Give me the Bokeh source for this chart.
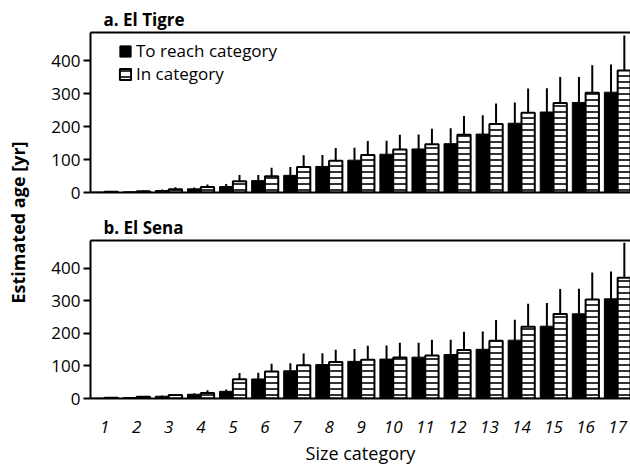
from math import pi

from bokeh.embed import file_html
from bokeh.layouts import column, row
from bokeh.models import (ColumnDataSource, FixedTicker, Label, Legend,
                          LegendItem, LinearAxis, Range1d)
from bokeh.plotting import figure
from bokeh.resources import INLINE
from bokeh.transform import dodge

# Size categories and tick labels
categories = list(range(1, 18))
category_labels = [str(c) for c in categories]
y_ticks = [0, 100, 200, 300, 400]

# a. El Tigre: mean estimated age (yr) and upper error (yr)
tigre_reach = [1, 2, 6, 11, 18, 36, 52, 79, 98, 116, 132, 148, 177, 210, 244, 273, 304]
tigre_reach_err = [1, 2, 3, 4, 8, 17, 25, 35, 38, 41, 44, 47, 57, 63, 72, 77, 84]
tigre_in = [2, 4, 10, 17, 34, 49, 77, 96, 114, 130, 146, 175, 208, 242, 271, 302, 370]
tigre_in_err = [1, 2, 6, 7, 19, 26, 36, 39, 42, 45, 47, 57, 62, 73, 79, 84, 106]

# b. El Sena
sena_reach = [1, 3, 7, 13, 22, 60, 85, 104, 114, 121, 127, 135, 151, 179, 222, 260, 306]
sena_reach_err = [1, 1, 2, 3, 6, 19, 23, 35, 38, 42, 44, 45, 55, 63, 71, 77, 84]
sena_in = [2, 5, 11, 17, 59, 83, 102, 112, 119, 126, 132, 149, 177, 220, 259, 304, 371]
sena_in_err = [1, 2, 3, 8, 19, 24, 36, 38, 43, 45, 48, 56, 64, 71, 77, 83, 107]

FONT = "Open Sans"
X_START, X_END = 0.56, 17.4
Y_END = 485
BAR_W = 0.415
OFF = BAR_W / 2


def panel(title, reach, reach_err, inside, inside_err, height, b_top, b_bottom,
          show_x, show_legend):
    src = ColumnDataSource(dict(
        cat=categories,
        reach=reach,
        reach_hi=[v + e for v, e in zip(reach, reach_err)],
        inside=inside,
        inside_hi=[v + e for v, e in zip(inside, inside_err)],
    ))
    p = figure(width=600, height=height, title=title,
               x_range=Range1d(X_START, X_END), y_range=Range1d(0, Y_END),
               output_backend="svg", toolbar_location=None,
               min_border_left=60, min_border_right=0,
               min_border_top=b_top, min_border_bottom=b_bottom)
    p.outline_line_color = None
    p.grid.visible = False
    p.background_fill_color = "white"
    p.border_fill_color = "white"

    # panel title
    p.title.align = "left"
    p.title.offset = 13
    p.title.standoff = 4
    p.title.text_font = FONT
    p.title.text_font_size = "17px"
    p.title.text_font_style = "bold"
    p.title.text_color = "black"

    # upward error whiskers
    p.segment(x0=dodge("cat", -OFF, range=p.x_range), y0="reach",
              x1=dodge("cat", -OFF, range=p.x_range), y1="reach_hi",
              source=src, line_color="black", line_width=2)
    p.segment(x0=dodge("cat", OFF, range=p.x_range), y0="inside",
              x1=dodge("cat", OFF, range=p.x_range), y1="inside_hi",
              source=src, line_color="black", line_width=2)

    solid = p.vbar(x=dodge("cat", -OFF, range=p.x_range), top="reach", bottom=0,
                   width=BAR_W, source=src, fill_color="black",
                   line_color="black", line_width=1)
    hatched = p.vbar(x=dodge("cat", OFF, range=p.x_range), top="inside", bottom=0,
                     width=BAR_W, source=src, fill_color="white",
                     line_color="black", line_width=2,
                     hatch_pattern="horizontal_line", hatch_color="black",
                     hatch_scale=6, hatch_weight=1.6)

    # y axis
    ya = p.yaxis[0]
    ya.ticker = FixedTicker(ticks=y_ticks)
    ya.minor_tick_line_color = None
    ya.major_tick_in = 0
    ya.major_tick_out = 7
    ya.major_tick_line_width = 2
    ya.axis_line_width = 2
    ya.major_label_standoff = 3
    ya.major_label_text_font = FONT
    ya.major_label_text_font_size = "17px"
    ya.major_label_text_color = "black"

    # x axis
    xa = p.xaxis[0]
    xa.minor_tick_line_color = None
    xa.major_tick_in = 0
    xa.major_tick_out = 0
    xa.axis_line_width = 2
    if show_x:
        xa.ticker = FixedTicker(ticks=categories)
        xa.major_label_overrides = {c: lab for c, lab in zip(categories, category_labels)}
        xa.major_label_standoff = 22
        xa.major_label_text_font = FONT
        xa.major_label_text_font_size = "17px"
        xa.major_label_text_font_style = "italic"
        xa.major_label_text_color = "black"
        xa.axis_label = "Size category"
        xa.axis_label_standoff = 5
        xa.axis_label_text_font = FONT
        xa.axis_label_text_font_size = "18px"
        xa.axis_label_text_font_style = "normal"
        xa.axis_label_text_color = "black"
    else:
        xa.ticker = FixedTicker(ticks=[])
        xa.major_label_standoff = 0

    # top border line
    top_axis = LinearAxis(ticker=FixedTicker(ticks=[]), axis_line_width=2,
                          major_tick_line_color=None, minor_tick_line_color=None,
                          major_label_standoff=0)
    p.add_layout(top_axis, "above")

    if show_legend:
        legend = Legend(items=[LegendItem(label="To reach category", renderers=[solid]),
                               LegendItem(label="In category", renderers=[hatched])],
                        location=(28, 107), padding=0, margin=0, spacing=0,
                        glyph_width=14, glyph_height=14, label_height=20,
                        label_standoff=4, label_text_font=FONT,
                        label_text_font_size="17px", label_text_color="black",
                        background_fill_alpha=0, border_line_color=None)
        p.add_layout(legend)
    return p


top = panel("a. El Tigre", tigre_reach, tigre_reach_err, tigre_in, tigre_in_err,
            205, 32, 13, False, True)
bottom = panel("b. El Sena", sena_reach, sena_reach_err, sena_in, sena_in_err,
               262, 35, 69, True, False)

# shared y-axis title
ylab = figure(width=30, height=467, x_range=Range1d(0, 30), y_range=Range1d(0, 467),
              output_backend="svg", toolbar_location=None,
              min_border=0, x_axis_location=None, y_axis_location=None)
ylab.outline_line_color = None
ylab.grid.visible = False
ylab.add_layout(Label(x=17, y=245, text="Estimated age [yr]", angle=pi / 2,
                      text_font=FONT, text_font_size="18px", text_font_style="bold",
                      text_color="black", text_align="center", text_baseline="middle"))

layout = row(ylab, column(top, bottom, spacing=0), spacing=0)

with open("out.html", "w") as f:
    f.write(file_html(layout, INLINE))
